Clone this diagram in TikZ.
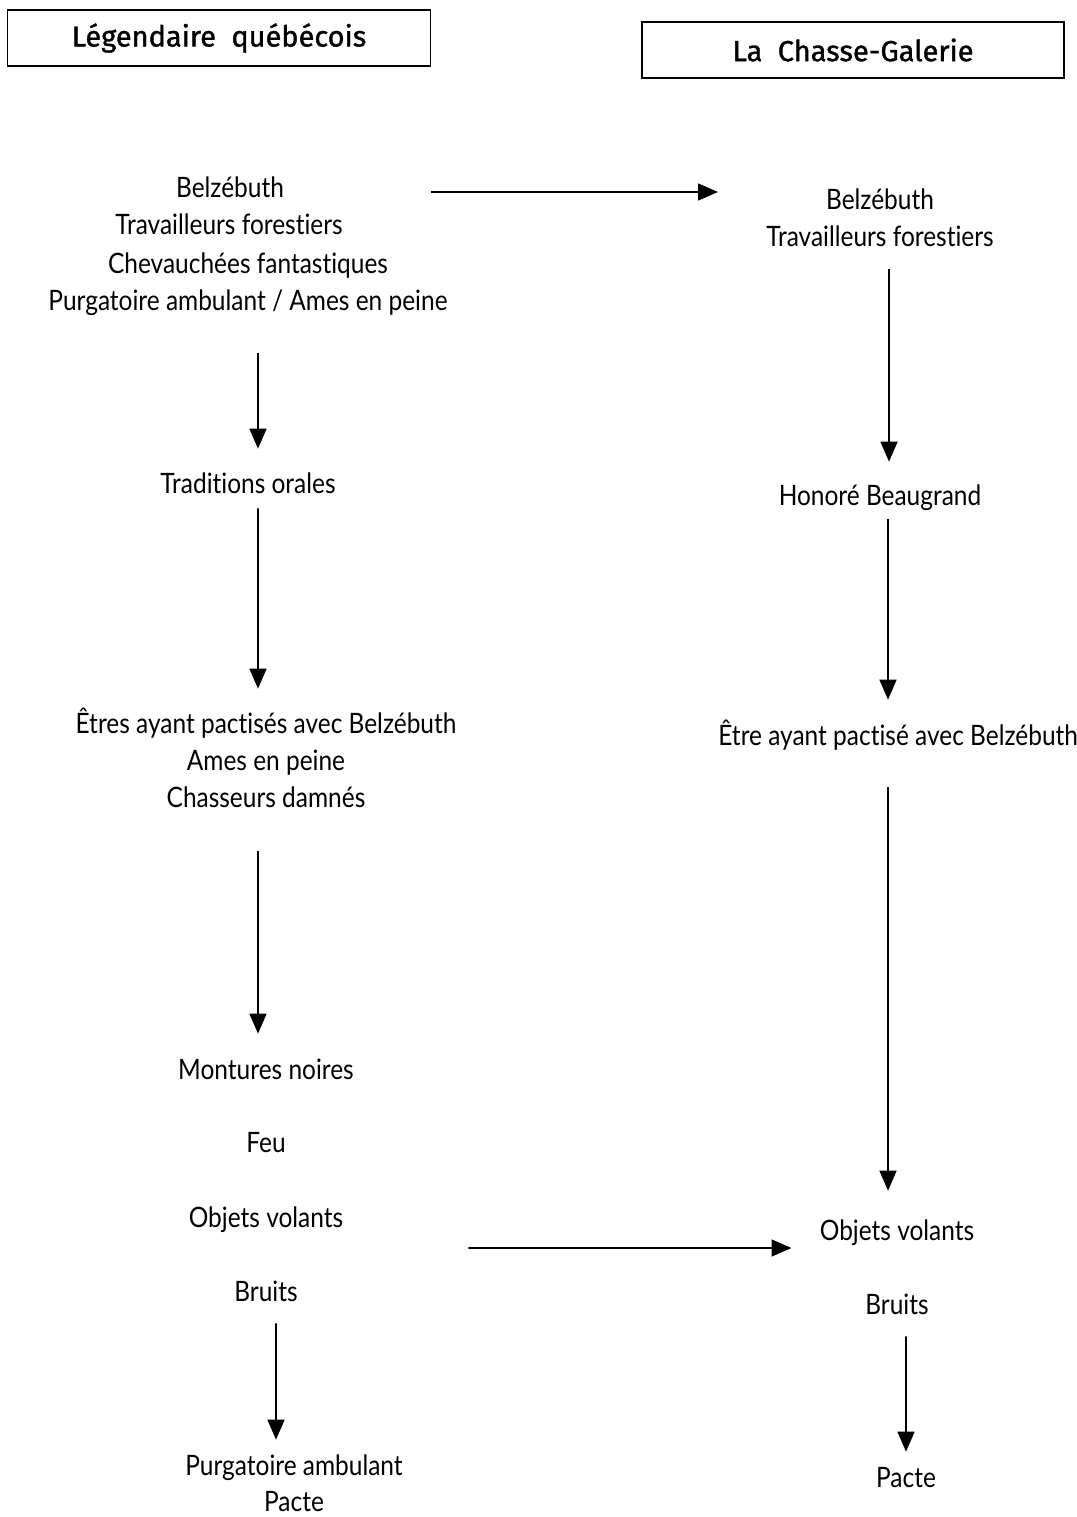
\documentclass[tikz,border=0pt]{standalone}
\usepackage{fontspec}
\setmainfont{Lato}[FakeStretch=0.87,RawFeature=-liga]
\newfontfamily\titlefont{Fira Sans}[FakeBold=1.2]
\usetikzlibrary{arrows.meta}
\begin{document}
\begin{tikzpicture}[x=0.02cm,y=-0.02cm,
    txt/.style={inner sep=0pt,text height=0.42cm,text depth=0.1cm,font=\fontsize{16}{19}\selectfont},
    titlebox/.style={draw,line width=1pt,minimum height=1.13cm,font=\titlefont\fontsize{16.5}{20}\selectfont},
    link/.style={line width=0.9pt,-{Triangle[length=0.4cm,width=0.34cm]}}]
  \useasboundingbox (0,0) rectangle (1076,1517);
  \draw
    (219,38) node[titlebox,minimum width=8.46cm] (tl) {Légendaire~~québécois}
    (853,50) node[titlebox,minimum width=8.44cm] (tr) {La~~Chasse-Galerie}
    % colonne de gauche
    (230,190) node[txt] (bz) {Belzébuth}
    (229,227) node[txt] (tf) {Travailleurs forestiers}
    (248,266) node[txt] (cf) {Chevauchées fantastiques}
    (248,303) node[txt] (pa) {Purgatoire ambulant / Ames en peine}
    (248,485) node[txt] (to) {Traditions orales}
    (266,725) node[txt] (et) {Êtres ayant pactisés avec Belzébuth}
    (266,762) node[txt] (ap) {Ames en peine}
    (266,799) node[txt] (cd) {Chasseurs damnés}
    (266,1071) node[txt] (mn) {Montures noires}
    (266,1144) node[txt] (fe) {Feu}
    (266,1219) node[txt] (ov) {Objets volants}
    (266,1293) node[txt] (br) {Bruits}
    (294,1467) node[txt] (pg) {Purgatoire ambulant}
    (294,1503) node[txt] (pc) {Pacte}
    % colonne de droite
    (880,202) node[txt] (bz2) {Belzébuth}
    (880,239) node[txt] (tf2) {Travailleurs forestiers}
    (880,497) node[txt] (hb) {Honoré Beaugrand}
    (718,737) node[txt,anchor=west] (et2) {Être ayant pactisé avec Belzébuth}
    (897,1232) node[txt] (ov2) {Objets volants}
    (897,1306) node[txt] (br2) {Bruits}
    (906,1479) node[txt] (pc2) {Pacte};
  \begin{scope}[link]
    \draw ([yshift=-0.04cm]bz.east -| tl.east) -- ([yshift=-0.04cm]bz.east -| et2.west);
    \draw[shorten <=0.74cm,shorten >=0.46cm] ([xshift=0.2cm]pa.south) -- ([xshift=0.2cm]to.north);
    \draw[shorten <=0.2cm,shorten >=0.46cm] ([xshift=0.2cm]to.south) -- ([xshift=-0.16cm]et.north);
    \draw[shorten <=0.78cm,shorten >=0.48cm] ([xshift=-0.16cm]cd.south) -- ([xshift=-0.16cm]mn.north);
    \draw[shorten <=0.34cm,shorten >=0.28cm] ([xshift=0.2cm]br.south) -- ([xshift=-0.36cm]pc.north |- pg.north);
    \draw[shorten <=2.5cm,shorten >=0.56cm] ([yshift=-0.58cm]ov.east) -- ([yshift=-0.32cm]ov2.west);
    \draw[shorten <=0.34cm,shorten >=0.44cm] ([xshift=0.18cm]tf2.south) -- ([xshift=0.18cm]hb.north);
    \draw[shorten <=0.18cm,shorten >=0.48cm] ([xshift=0.16cm]hb.south) -- ([xshift=0.16cm]hb.south |- et2.north);
    \draw[shorten <=0.74cm,shorten >=0.56cm] ([xshift=-0.18cm]ov2.north |- et2.south) -- ([xshift=-0.18cm]ov2.north);
    \draw[shorten <=0.34cm,shorten >=0.28cm] ([xshift=0.18cm]br2.south) -- (pc2.north);
  \end{scope}
\end{tikzpicture}
\end{document}
